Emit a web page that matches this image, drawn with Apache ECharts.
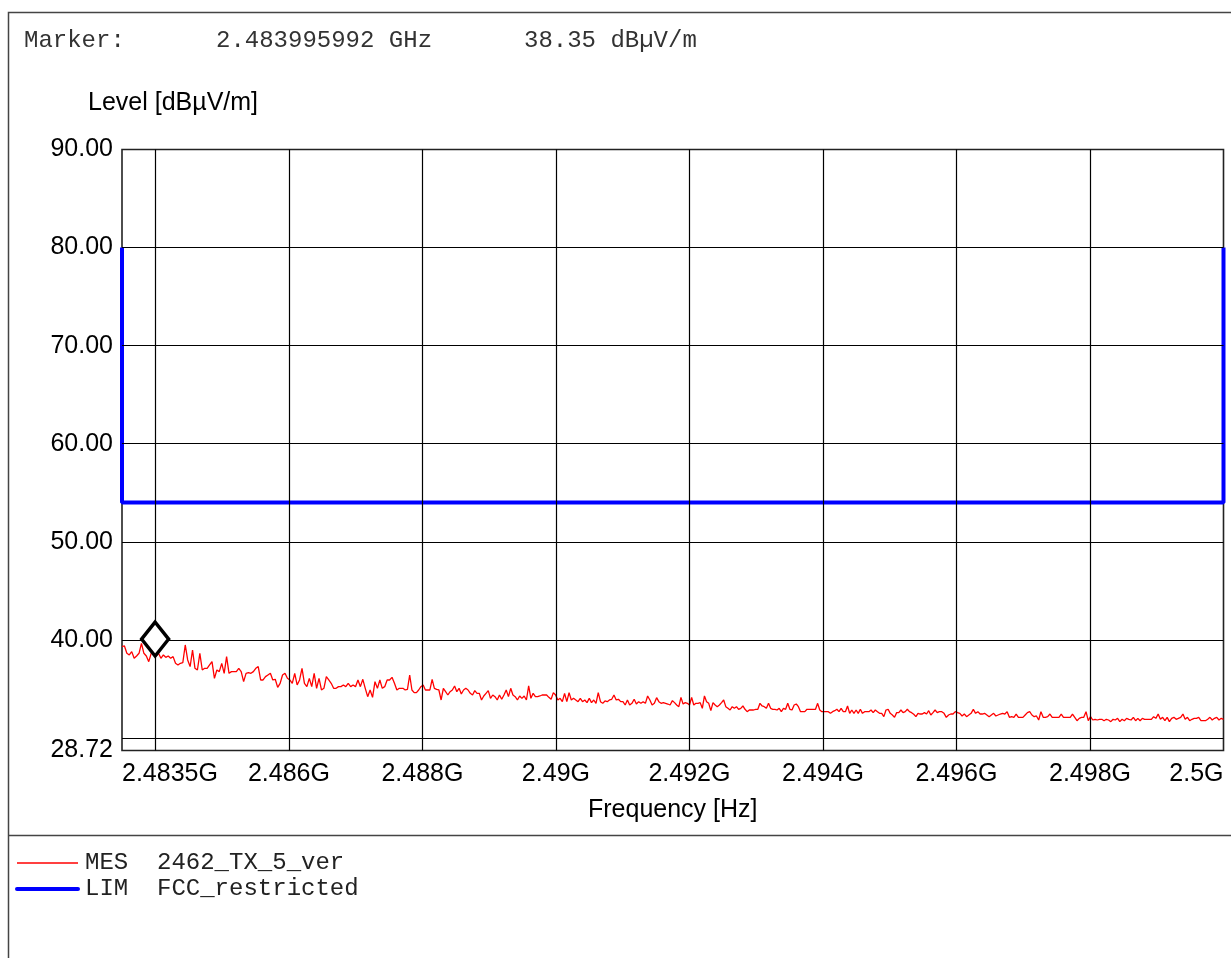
<!DOCTYPE html>
<html>
<head>
<meta charset="utf-8">
<script src="https://cdn.jsdelivr.net/npm/echarts@6/dist/echarts.min.js"></script>
<style>
html,body{margin:0;padding:0;background:#fff;}
#chart{width:1231px;height:958px;}
</style>
</head>
<body>
<div id="chart"></div>
<script>
// ---- data (frequency in MHz, level in dBµV/m) ----
const xTickValues = [2483.5, 2486, 2488, 2490, 2492, 2494, 2496, 2498, 2500];
const xTickLabels = ['2.4835G', '2.486G', '2.488G', '2.49G', '2.492G', '2.494G', '2.496G', '2.498G', '2.5G'];
const xGridValues = [2484, 2486, 2488, 2490, 2492, 2494, 2496, 2498];
const yTickValues = [28.72, 40, 50, 60, 70, 80, 90];
const yTickLabels = ['28.72', '40.00', '50.00', '60.00', '70.00', '80.00', '90.00'];
const yGridValues = [30, 40, 50, 60, 70, 80];

const headerTexts = ['Marker:', '2.483995992 GHz', '38.35 dBµV/m'];
const markerFreq = 2483.996;
const markerLevel = 38.35;

const limitName = 'LIM  FCC_restricted';
const limitFreq = [2483.5, 2483.5, 2500, 2500];
const limitLevel = [80, 54, 54, 80];

const measName = 'MES  2462_TX_5_ver';
// sweep segments: start / end frequency of each block of readings
const segStart = [2483.5, 2487.675, 2491.745, 2495.78];
const segEnd = [2487.654, 2491.71, 2495.744, 2500];
const measA = [39.31,39.38,38.63,38.46,38.80,38.12,38.36,38.63,39.65,38.63,
38.36,37.78,38.63,38.80,38.36,38.63,38.12,38.46,38.22,38.36,
38.12,38.29,37.61,37.44,37.61,37.68,39.48,37.95,37.27,38.97,
37.10,36.93,38.63,36.93,37.10,37.10,37.44,37.78,36.08,36.93,
36.76,37.61,36.59,38.29,36.59,36.76,36.76,36.76,37.10,36.76,
35.74,36.59,36.66,36.59,36.76,37.10,37.27,35.91,35.91,36.25,
36.42,36.59,35.91,35.98,35.16,35.57,36.42,36.59,36.08,35.91,
35.57,36.59,35.40,35.91,37.10,35.57,35.23,36.08,35.23,36.59,
35.06,36.08,34.89,35.06,36.25,35.91,35.57,35.06,35.06,35.23,
35.23,35.40,35.23,35.57,35.23,35.40,35.23,35.91,35.23,35.98,
35.06,34.21,34.89,34.14,35.74,35.06,35.91,35.06,35.23,35.91,
35.91,36.18,35.57,34.89,35.06];
const measB = [34.89,35.06,34.89,34.96,36.42,34.89,34.62,34.62,34.89,35.23,
35.40,34.89,34.89,34.89,35.98,35.06,34.96,34.89,33.87,35.06,
34.72,34.38,34.72,34.89,35.30,34.72,35.06,34.48,34.89,35.06,
34.89,34.55,34.38,34.82,34.55,34.55,33.87,34.28,34.55,34.82,
34.04,34.38,34.21,33.87,34.38,33.94,34.38,34.89,34.21,35.06,
34.38,34.21,33.87,34.28,34.04,34.28,33.87,35.30,34.04,34.55,
34.21,34.21,34.28,34.38,34.38,34.38,34.14,33.94,34.62,34.38,
33.87,34.04,33.70,34.55,33.70,34.62,33.87,34.04,33.87,33.70,
34.04,33.70,33.87,33.60,34.04,33.60,33.87,33.53,34.62,33.70,
33.53,33.77,33.70,33.87,33.94,34.38,33.87,33.94,33.70,33.70,
33.36,33.87,33.36,33.53,33.94,33.46,33.70,33.53,33.70,33.53,
34.28,33.87,33.36,33.53,34.11,33.70,33.53,33.60,33.53,33.46,
33.36];
const measC = [33.80,33.60,33.36,33.19,34.14,33.46,33.60,33.53,33.36,34.14,
33.36,33.53,33.53,33.60,33.02,34.28,33.70,33.53,32.78,33.60,
33.36,33.19,33.36,33.60,33.87,33.19,33.02,32.85,33.19,33.02,
33.19,32.92,33.02,33.26,32.92,32.68,32.85,32.85,32.85,32.92,
32.92,33.53,33.26,33.19,33.02,33.53,33.02,32.92,32.92,32.85,
33.02,32.68,33.02,32.92,33.53,32.92,32.85,33.36,33.46,33.19,
32.68,32.68,32.68,32.92,32.92,32.92,32.92,32.92,33.53,32.85,
32.68,32.68,32.68,32.68,32.51,32.68,32.78,32.92,32.68,33.02,
32.68,32.68,33.26,32.51,32.85,32.51,32.85,32.51,32.92,32.51,
32.68,32.68,32.68,32.85,32.58,32.85,32.68,32.51,32.51,32.17,
32.85,32.92,32.51,32.34,32.10,32.58,32.58,32.85,32.58,32.68,
32.92,32.68,32.58,32.41,32.17,32.51,32.44,32.44,32.58,32.44,
32.78,32.34,32.58,32.85,32.58,32.68];
const measD = [32.68,32.51,32.10,32.34,32.44,32.44,32.68,32.58,32.51,32.24,
32.44,32.17,32.34,32.51,32.92,32.51,32.68,32.44,32.44,32.51,
32.34,32.17,32.34,32.51,32.24,32.34,32.44,32.51,32.44,32.68,
32.10,32.17,32.10,32.44,32.10,32.10,32.10,32.34,32.58,32.68,
32.34,32.17,32.24,31.83,32.68,32.10,32.10,32.17,32.44,32.10,
32.10,32.10,32.10,32.44,32.10,32.10,32.10,32.10,32.44,32.10,
31.76,32.00,32.10,32.10,32.68,31.76,32.17,31.83,31.90,31.83,
31.90,31.90,31.76,31.90,31.83,31.66,31.90,31.83,32.00,31.66,
31.90,31.76,32.00,31.90,31.83,32.10,31.76,32.00,31.76,32.00,
31.90,31.90,31.90,31.90,32.17,32.00,32.44,31.90,32.10,31.76,
32.10,31.66,32.00,32.10,31.90,32.00,32.10,32.44,31.90,32.10,
31.76,31.90,32.00,32.00,32.10,31.76,31.76,31.76,31.90,32.10,
31.83,32.00,32.10,31.83,32.00,31.90];

// ---- build series data ----
const segments = [measA, measB, measC, measD];
const measData = [];
segments.forEach(function (seg, s) {
  const step = (segEnd[s] - segStart[s]) / (seg.length - 1);
  seg.forEach(function (v, i) { measData.push([segStart[s] + i * step, v]); });
});
const limitData = limitFreq.map(function (f, i) { return [f, limitLevel[i]]; });

const AX_FONT = 'Liberation Sans';
const MONO = 'Liberation Mono';
const HIDDEN_SYMBOL = { color: 'rgba(0,0,0,0)', borderColor: 'rgba(0,0,0,0)', borderWidth: 0, opacity: 0 };

const chart = echarts.init(document.getElementById('chart'), null, { renderer: 'canvas' });
chart.setOption({
  animation: false,
  backgroundColor: '#fff',
  grid: {
    left: 122, top: 149.5, width: 1101.5, height: 601,
    show: true, borderColor: '#222', borderWidth: 1.6, backgroundColor: 'transparent'
  },
  legend: {
    orient: 'vertical', left: 15, top: 850, padding: 0,
    itemWidth: 61, itemHeight: 14, itemGap: 0,
    selectedMode: false,
    data: [
      { name: measName, itemStyle: HIDDEN_SYMBOL, lineStyle: { color: '#ff0000', width: 1.3 } },
      { name: limitName, itemStyle: HIDDEN_SYMBOL, lineStyle: { color: '#0000ff', width: 4, cap: 'round' } }
    ],
    textStyle: { fontFamily: MONO, fontSize: 24, color: '#222', lineHeight: 26, padding: [0, 0, 0, 2] }
  },
  xAxis: {
    type: 'value', min: 2483.5, max: 2500,
    name: 'Frequency [Hz]', nameLocation: 'middle', nameGap: 47,
    nameTextStyle: { fontFamily: AX_FONT, fontSize: 25, color: '#000' },
    axisLine: { show: false }, axisTick: { show: false }, splitLine: { show: false },
    axisLabel: {
      customValues: xTickValues,
      fontFamily: AX_FONT, fontSize: 25, color: '#000', margin: 11,
      alignMinLabel: 'left', alignMaxLabel: 'right',
      formatter: function (v) { return xTickLabels[xTickValues.indexOf(v)]; }
    }
  },
  yAxis: {
    type: 'value', min: 28.72, max: 90,
    axisLine: { show: false }, axisTick: { show: false }, splitLine: { show: false },
    axisLabel: {
      customValues: yTickValues,
      fontFamily: AX_FONT, fontSize: 25, color: '#000', margin: 9,
      formatter: function (v) { return yTickLabels[yTickValues.indexOf(v)]; }
    }
  },
  graphic: [
    { type: 'rect', silent: true, z: -1, shape: { x: 8.5, y: 12.5, width: 1300, height: 1000 },
      style: { fill: 'none', stroke: '#444', lineWidth: 1.5 } },
    { type: 'line', silent: true, shape: { x1: 8, y1: 835.5, x2: 1231, y2: 835.5 },
      style: { stroke: '#444', lineWidth: 1.5 } },
    { type: 'text', left: 24, top: 29, style: { text: headerTexts[0], font: '24px "Liberation Mono"', fill: '#333' } },
    { type: 'text', left: 216, top: 29, style: { text: headerTexts[1], font: '24px "Liberation Mono"', fill: '#333' } },
    { type: 'text', left: 524, top: 29, style: { text: headerTexts[2], font: '24px "Liberation Mono"', fill: '#333' } },
    { type: 'text', left: 88, top: 91, style: { text: 'Level [dBµV/m]', font: '25px "Liberation Sans"', fill: '#000' } }
  ],
  series: [
    {
      name: 'grid', type: 'line', data: [], silent: true, z: 1,
      markLine: {
        silent: true, symbol: ['none', 'none'], label: { show: false },
        lineStyle: { color: '#000', width: 1.2, type: 'solid' },
        data: xGridValues.map(function (v) { return { xAxis: v }; })
          .concat(yGridValues.map(function (v) { return { yAxis: v }; }))
      }
    },
    {
      name: limitName, type: 'line', data: limitData, symbol: 'none', clip: false, z: 3,
      lineStyle: { color: '#0000ff', width: 4 }, itemStyle: { color: '#0000ff' }
    },
    {
      name: measName, type: 'line', data: measData, symbol: 'none', clip: false, z: 4,
      lineStyle: { color: '#ff0000', width: 1.3 }, itemStyle: { color: '#ff0000' }
    },
    {
      name: 'marker', type: 'scatter', data: [[markerFreq, markerLevel]], z: 6,
      symbol: 'diamond', symbolSize: [27, 34], symbolOffset: [0, '-50%'],
      itemStyle: { color: '#fff', borderColor: '#000', borderWidth: 3.5, opacity: 1 }, silent: true
    }
  ]
});
</script>
</body>
</html>
